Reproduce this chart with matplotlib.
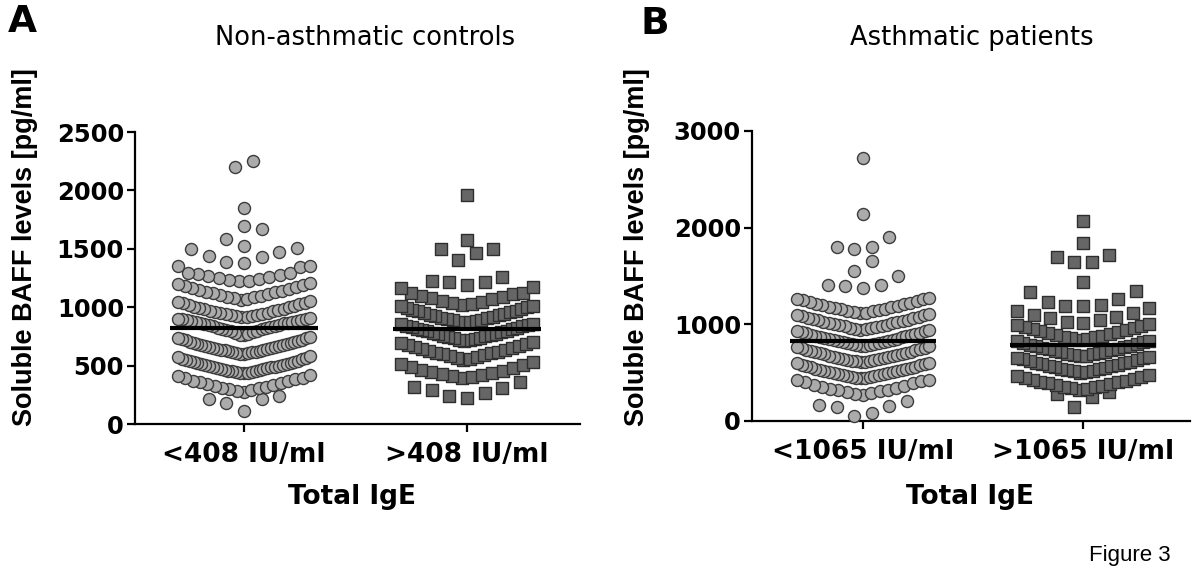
import numpy as np
import matplotlib.pyplot as plt

plt.rcParams['font.family'] = ['DejaVu Sans']

# Panel A - non-asthmatic controls, soluble BAFF (pg/ml)
groups_a = ['<408 IU/ml', '>408 IU/ml']
baff_a_low = [
    114, 182, 211, 214, 242,
    276, 283, 291, 297, 305, 312, 319, 326, 335, 341, 349, 358, 364, 372, 381, 390, 398, 409, 420,
    434, 437, 439, 444, 446, 451, 453, 458, 461, 466, 468, 472, 476, 479, 484, 487, 491, 495, 498,
    503, 507, 511, 515, 520, 524, 529, 533, 538, 543, 548, 553, 559, 565, 571, 579,
    600, 602, 606, 609, 613, 615, 619, 623, 626, 630, 633, 637, 641, 645, 648, 652, 656, 660, 664,
    668, 673, 677, 681, 686, 690, 695, 700, 705, 710, 715, 721, 727, 733, 740, 747,
    758, 766, 773, 779, 786, 792, 798, 804, 810, 816, 821, 826, 831, 836, 841, 846, 851, 856, 861,
    865, 869, 873, 877, 881, 885, 889, 893, 896, 899, 902, 905,
    912, 916, 921, 925, 930, 934, 939, 944, 949, 954, 959, 965, 970, 976, 981, 987, 993, 999,
    1005, 1012, 1018, 1025, 1032, 1040, 1048, 1057,
    1065, 1071, 1077, 1084, 1090, 1097, 1104, 1111, 1118, 1126, 1133, 1141, 1149, 1157, 1165,
    1173, 1182, 1191, 1200, 1209,
    1221, 1228, 1236, 1243, 1251, 1258, 1266, 1273, 1281, 1289,
    1297, 1340, 1351, 1355, 1375, 1391, 1434, 1435, 1474, 1497, 1511, 1525, 1588, 1668, 1691,
    1853, 2201, 2252,
]
baff_a_high = [
    220, 240, 263, 291, 305, 320, 362,
    391, 400, 408, 417, 427, 436, 446, 455, 466, 477, 489, 502, 516, 533,
    552, 559, 566, 574, 581, 589, 597, 604, 612, 620, 628, 636, 644, 653, 661, 670, 678, 686, 693, 700,
    710, 716, 722, 727, 733, 738, 744, 750, 756, 762, 768, 774, 780, 786, 792, 798, 804, 810, 816,
    823, 829, 836, 842, 848, 853, 858,
    866, 871, 876, 882, 887, 893, 899, 905, 911, 917, 923, 930, 936, 943, 950, 957, 964, 971, 978,
    986, 994, 1001, 1008, 1014,
    1022, 1030, 1040, 1048, 1057, 1066, 1075, 1084, 1096, 1113, 1119, 1124, 1161,
    1170, 1190, 1213, 1213, 1224, 1261,
    1404, 1467, 1495, 1498, 1575, 1960,
]

# Panel B - asthmatic patients
groups_b = ['<1065 IU/ml', '>1065 IU/ml']
baff_b_low = [
    52, 86, 148, 155, 165, 210,
    269, 278, 287, 297, 306, 316, 325, 335, 345, 355, 366, 377, 388, 399, 410, 419, 428,
    441, 445, 449, 454, 458, 463, 468, 472, 477, 482, 487, 492, 497, 502, 507, 513, 518, 524, 530,
    536, 542, 548, 555, 561, 568, 575, 582, 589, 596, 603,
    608, 612, 616, 621, 625, 630, 635, 640, 645, 650, 655, 660, 665, 671, 677, 682, 688, 694, 700,
    706, 712, 718, 725, 731, 738, 745, 752, 759, 765, 771,
    776, 780, 785, 790, 795, 800, 805, 810, 815, 820, 825, 830, 836, 841, 847, 852, 858, 864, 870,
    876, 882, 888, 894, 900, 906, 913, 920, 927, 933, 939,
    945, 950, 956, 961, 967, 973, 979, 985, 991, 997, 1003, 1009, 1016, 1022, 1029, 1035, 1042,
    1049, 1056, 1063, 1070, 1077, 1085, 1093, 1100, 1107,
    1115, 1121, 1128, 1134, 1141, 1148, 1155, 1162, 1169, 1176, 1184, 1191, 1199, 1207, 1215,
    1223, 1231, 1240, 1249, 1258, 1267, 1277,
    1373, 1399, 1406, 1408, 1500, 1554, 1658, 1779, 1796, 1803, 1900, 2141, 2723,
]
baff_b_high = [
    141, 245, 279, 298,
    321, 330, 338, 347, 355, 364, 372, 381, 390, 399, 408, 417, 427, 437, 447, 458, 469, 481,
    500, 507, 514, 521, 528, 535, 543, 550, 558, 565, 573, 581, 589, 597, 605, 613, 621, 630,
    639, 647, 655, 663,
    670, 676, 683, 690, 697, 704, 711, 718, 726, 733, 741, 749, 757, 765, 773, 781, 789, 797,
    806, 815, 824, 832,
    840, 848, 856, 865, 874, 883, 892, 901, 910, 919, 929, 938, 948, 958, 968, 979, 990, 1001,
    1010, 1027, 1044, 1061, 1080, 1099, 1118, 1140, 1165,
    1190, 1190, 1200, 1234, 1258, 1337, 1347, 1441, 1648, 1648, 1699, 1717, 1837, 2071,
]


def swarm(ax, values, center, bw, step, half_w, **kw):
    # Prism-like scatter: bin values, lowest of each bin in the middle
    vals = np.sort(np.asarray(values, dtype=float))
    xs, ys = [], []
    i = 0
    while i < len(vals):
        j = i
        while j < len(vals) and vals[j] < vals[i] + bw:
            j += 1
        row = vals[i:j]
        n = len(row)
        s = step if n < 2 else min(step, 2 * half_w / (n - 1))
        slots = sorted(np.arange(n) - (n - 1) / 2, key=lambda o: (abs(o), o))
        for v, o in zip(row, slots):
            xs.append(center + o * s)
            ys.append(v)
        i = j
    ax.scatter(xs, ys, clip_on=False, zorder=3, **kw)
    m = np.mean(values)
    ax.plot([center - 0.33, center + 0.33], [m, m], color='black', lw=3,
            solid_capstyle='butt', zorder=5)


circle_kw = dict(marker='o', s=75, facecolor='#ababab', edgecolor='#3c3c3c', linewidths=1.0)
square_kw = dict(marker='s', s=78, facecolor='#666666', edgecolor='#2e2e2e', linewidths=1.0)

fig = plt.figure(figsize=(12, 5.8), dpi=100)
axA = fig.add_axes([135 / 1200, 1 - 424 / 580, 445 / 1200, 292 / 580])
axB = fig.add_axes([752 / 1200, 1 - 421 / 580, 438 / 1200, 290 / 580])

swarm(axA, baff_a_low, 0, 150, 0.079, 0.296, **circle_kw)
swarm(axA, baff_a_high, 1, 150, 0.079, 0.296, **square_kw)
swarm(axB, baff_b_low, 0, 165, 0.080, 0.300, **circle_kw)
swarm(axB, baff_b_high, 1, 165, 0.080, 0.300, **square_kw)

for ax, labels, yt, ymax, xl in [
        (axA, groups_a, [0, 500, 1000, 1500, 2000, 2500], 2500, (-0.489, 1.507)),
        (axB, groups_b, [0, 1000, 2000, 3000], 3000, (-0.505, 1.486))]:
    ax.set_xlim(*xl)
    ax.set_ylim(0, ymax)
    for side in ['top', 'right']:
        ax.spines[side].set_visible(False)
    for side in ['left', 'bottom']:
        ax.spines[side].set_linewidth(1.6)
    ax.set_yticks(yt, labels=[str(t) for t in yt], fontweight='bold', fontsize=17.5)
    ax.set_xticks([0, 1], labels=labels, fontweight='bold', fontsize=19)
    ax.tick_params(axis='both', width=1.6, length=6, direction='out')
    ax.tick_params(axis='x', pad=7)
    ax.tick_params(axis='y', pad=2)

ylab = 'Soluble BAFF levels [pg/ml]'
axA.text(-0.247, 0.606, ylab, transform=axA.transAxes, family='Liberation Sans',
         rotation=90, ha='center', va='center', fontsize=19.5, fontweight='bold')
axB.text(-0.263, 0.600, ylab, transform=axB.transAxes, family='Liberation Sans',
         rotation=90, ha='center', va='center', fontsize=19.5, fontweight='bold')
axA.text(0.488, -0.25, 'Total IgE', transform=axA.transAxes,
         ha='center', va='center', fontsize=19, fontweight='bold')
axB.text(0.498, -0.262, 'Total IgE', transform=axB.transAxes,
         ha='center', va='center', fontsize=19, fontweight='bold')

fig.text(365 / 1200, 1 - 38 / 580, 'Non-asthmatic controls', ha='center', va='center', fontsize=18.5)
fig.text(972 / 1200, 1 - 38 / 580, 'Asthmatic patients', ha='center', va='center', fontsize=18.5)
fig.text(22 / 1200, 1 - 22 / 580, 'A', ha='center', va='center', fontsize=27, fontweight='bold')
fig.text(655 / 1200, 1 - 24 / 580, 'B', ha='center', va='center', fontsize=27, fontweight='bold')
fig.text(1130 / 1200, 1 - 556 / 580, 'Figure 3', ha='center', va='center', fontsize=16,
         family='Liberation Sans')

fig.savefig('out.png', dpi=100)
